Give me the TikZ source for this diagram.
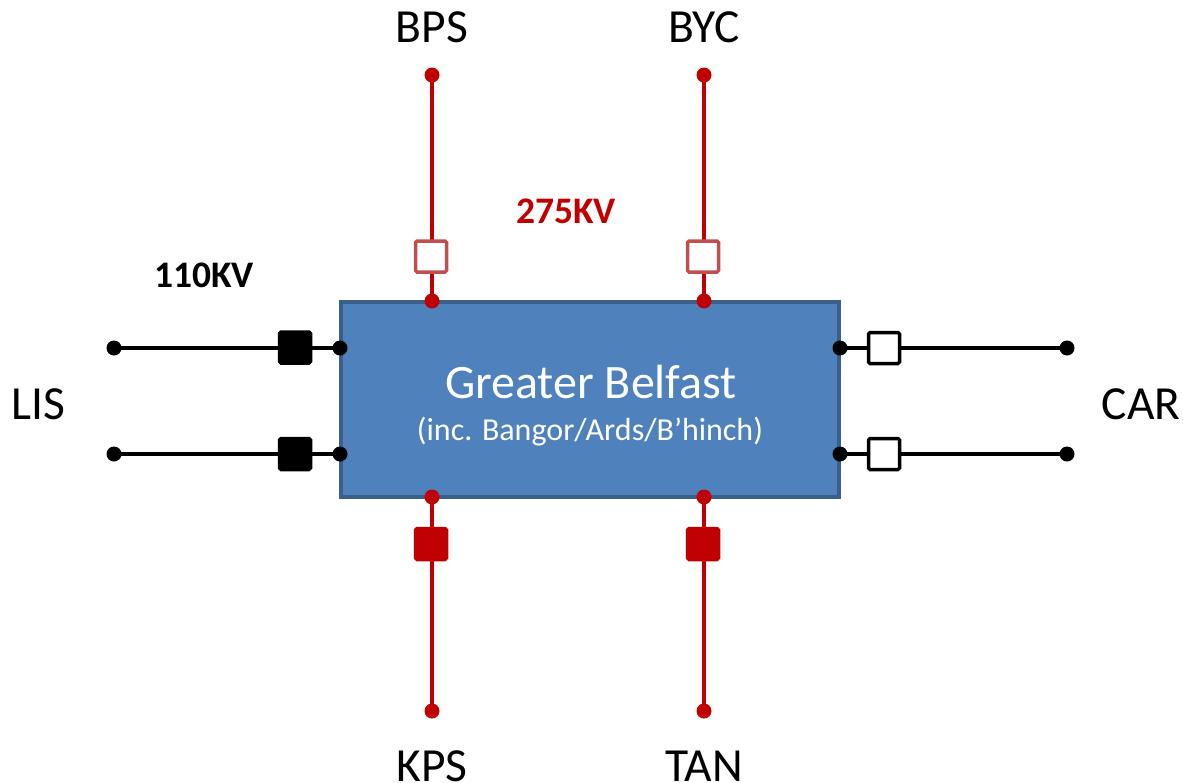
\documentclass[tikz,border=0pt]{standalone}
\usepackage{fontspec}
\setmainfont{Carlito}
\definecolor{boxfill}{HTML}{4F81BD}
\definecolor{boxline}{HTML}{3A5F8B}
\definecolor{hvred}{HTML}{C00000}
\definecolor{swred}{HTML}{C0504D}
\begin{document}
\begin{tikzpicture}[x=1pt,y=-1pt,
  wire/.style={line width=3.8pt},
  brk/.style={rectangle,rounded corners=1.5pt,inner sep=0pt,minimum size=31pt,line width=3.5pt},
  lbl/.style={font=\fontsize{47.5}{56}\selectfont,inner sep=0pt}
]
\useasboundingbox (0,0) rectangle (1183,782);
% main box
\node[draw=boxline,fill=boxfill,line width=4pt,minimum width=498pt,minimum height=195pt,inner sep=0pt] (gb) at (590,399.5) {};
\node[text=white,font=\fontsize{48}{56}\selectfont,inner sep=0pt] (t1) at (591,382) {Greater Belfast};
\node[text=white,font=\fontsize{32}{38}\selectfont,inner sep=0pt] (t2) at (590,432) {(inc. Bangor/Ards/B’hinch)};
% dot positions
\coordinate (bpsT) at (432,75);
\coordinate (bpsB) at (432,301);
\coordinate (bycT) at (704,75);
\coordinate (bycB) at (704,301);
\coordinate (kpsT) at (432,497);
\coordinate (kpsB) at (432,711);
\coordinate (tanT) at (704,497);
\coordinate (tanB) at (704,711);
\coordinate (lis1L) at (114,348);
\coordinate (lis1R) at (340,348);
\coordinate (lis2L) at (114,454);
\coordinate (lis2R) at (340,454);
\coordinate (car1L) at (840,348);
\coordinate (car1R) at (1067,348);
\coordinate (car2L) at (840,454);
\coordinate (car2R) at (1067,454);
% wires
\draw[wire,hvred] (bpsT) -- (bpsB);
\draw[wire,hvred] (bycT) -- (bycB);
\draw[wire,hvred] (kpsT) -- (kpsB);
\draw[wire,hvred] (tanT) -- (tanB);
\draw[wire,black] (lis1L) -- (lis1R);
\draw[wire,black] (lis2L) -- (lis2R);
\draw[wire,black] (car1L) -- (car1R);
\draw[wire,black] (car2L) -- (car2R);
% dots
\foreach \n in {bpsT,bpsB,bycT,bycB,kpsT,kpsB,tanT,tanB}
  \fill[hvred] (\n) circle (7.5pt);
\foreach \n in {lis1L,lis1R,lis2L,lis2R,car1L,car1R,car2L,car2R}
  \fill[black] (\n) circle (7.5pt);
% breakers
\node[brk,draw=swred,fill=white] (bpsS) at (431,256.5) {};
\node[brk,draw=swred,fill=white] (bycS) at (703,256.5) {};
\node[brk,draw=hvred,fill=hvred] (kpsS) at (431,544) {};
\node[brk,draw=hvred,fill=hvred] (tanS) at (703,544) {};
\node[brk,draw=black,fill=black] (lis1S) at (295,347.5) {};
\node[brk,draw=black,fill=black] (lis2S) at (295,454) {};
\node[brk,draw=black,fill=white] (car1S) at (884,348) {};
\node[brk,draw=black,fill=white] (car2S) at (884,454) {};
% labels
\node[lbl] (bps) at (432,27) {BPS};
\node[lbl] (byc) at (704,27) {BYC};
\node[lbl] (kps) at (432,766) {KPS};
\node[lbl] (tan) at (704,766) {TAN};
\node[lbl] (lis) at (38,404) {LIS};
\node[lbl] (car) at (1141,404) {CAR};
\node[font=\fontsize{37.5}{44}\selectfont\bfseries,inner sep=0pt] (kv110) at (204,275) {110KV};
\node[font=\fontsize{37.5}{44}\selectfont\bfseries,text=hvred,inner sep=0pt] (kv275) at (566,211) {275KV};
\end{tikzpicture}
\end{document}
